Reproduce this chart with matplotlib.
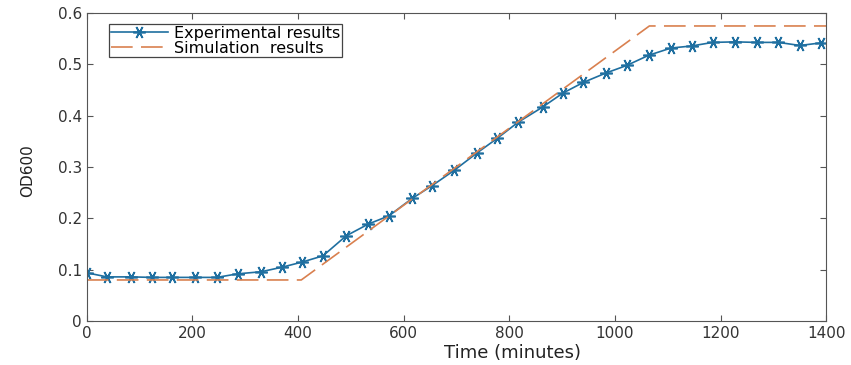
import matplotlib
matplotlib.use("Agg")
import matplotlib.pyplot as plt

# tijd (minuten) en OD600 van de metingen
time_exp = [0, 38, 84, 124, 162, 204, 246, 286, 330, 370, 408, 447, 491, 533, 572, 616,
            654, 696, 738, 777, 816, 863, 901, 940, 982, 1022, 1064, 1106, 1145, 1185,
            1227, 1268, 1309, 1350, 1390]
od_exp = [0.094, 0.086, 0.086, 0.085, 0.085, 0.085, 0.085, 0.092, 0.096, 0.105, 0.115,
          0.127, 0.166, 0.189, 0.205, 0.239, 0.264, 0.294, 0.327, 0.356, 0.387, 0.417,
          0.444, 0.465, 0.483, 0.498, 0.518, 0.532, 0.536, 0.543, 0.544, 0.543, 0.543,
          0.537, 0.542]

# simulatie: vlak - lineair - vlak
time_sim = [0, 406, 1065, 1400]
od_sim = [0.080, 0.080, 0.575, 0.575]

plt.rcParams['font.family'] = ['DejaVu Sans']
fig = plt.figure(figsize=(8.51, 3.65), dpi=100)
ax = fig.add_axes([0.102, 0.1205, 0.869, 0.8435])

# asterisk marker zoals in matlab
ax.plot(time_exp, od_exp, color='#1f6fa0', marker=(6, 2, 90), markersize=9,
        markeredgewidth=1.2, linewidth=1.2, label='Experimental results')
ax.plot(time_sim, od_sim, color='#d9804f', linestyle=(0, (13, 5)), linewidth=1.2,
        label='Simulation  results')

ax.set_xlim(0, 1400)
ax.set_ylim(0, 0.6)
ax.set_xticks([0, 200, 400, 600, 800, 1000, 1200, 1400])
ax.set_yticks([0, 0.1, 0.2, 0.3, 0.4, 0.5, 0.6])
ax.set_yticklabels(['0', '0.1', '0.2', '0.3', '0.4', '0.5', '0.6'])
ax.tick_params(direction='in', top=True, right=True, colors='#555555',
               labelcolor='#333333', labelsize=11, length=4)
for s in ax.spines.values():
    s.set_color('#555555')

ax.set_xlabel('Time (minutes)', fontsize=13, color='#222222')
ax.xaxis.set_label_coords(0.576, -0.075)
ax.set_ylabel('OD600', fontsize=11, color='#222222')
ax.yaxis.set_label_coords(-0.07, 0.49)

leg = ax.legend(loc='upper left', bbox_to_anchor=(0.03, 0.965), fontsize=11.5,
                fancybox=False, framealpha=1, edgecolor='#444444',
                borderpad=0.1, labelspacing=0.0, handlelength=3.6, handletextpad=0.4,
                borderaxespad=0)
leg.get_frame().set_linewidth(0.9)

fig.savefig('out.png', dpi=100)
